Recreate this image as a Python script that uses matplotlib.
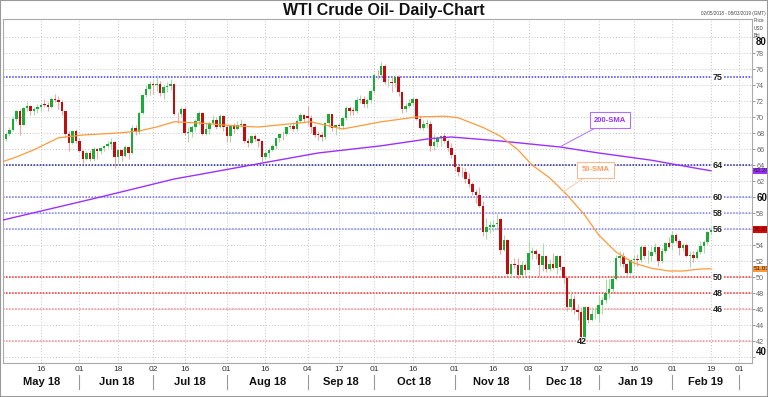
import pandas as pd
import matplotlib
matplotlib.use("Agg")
import matplotlib.pyplot as plt
import matplotlib.transforms as mtrans

plt.rcParams['font.family'] = ['Liberation Sans', 'DejaVu Sans']

# trading calendar (US holidays removed)
holidays = ['2018-05-28', '2018-07-04', '2018-09-03', '2018-11-22', '2018-12-25',
            '2019-01-01', '2019-01-21', '2019-02-18']
calendar = pd.bdate_range('2018-05-01', '2019-03-08', freq='C', holidays=holidays)

# daily OHLC, 02 May 2018 - 19 Feb 2019
opens = [67.25, 67.93, 68.43, 69.72, 70.73, 69.06, 71.14, 71.36, 70.70, 70.96, 71.31, 71.55, 71.49, 71.28, 72.24, 72.13, 71.84, 70.71, 67.88, 66.73, 68.21,
         67.04, 65.81, 64.75, 65.52, 64.73, 65.95, 65.74, 66.10, 66.36, 66.64, 66.89, 65.06, 65.85, 65.07, 66.22, 65.54, 68.58, 68.08, 70.53, 72.76, 73.45,
         74.15, 73.94, 74.14, 72.94, 73.80, 73.85, 74.11, 70.38, 70.33, 71.01, 68.06, 68.08, 68.76, 69.46, 70.46, 67.89, 68.52, 69.30, 69.61, 68.69, 70.13,
         68.76, 67.66, 68.96, 68.49, 69.01, 69.17, 66.94, 66.81, 67.63, 67.20, 67.04, 65.01, 65.46, 65.91, 66.43, 67.35, 67.86, 67.83, 68.72, 68.87, 68.53, 69.51, 70.25,
         70.10, 69.87, 68.72, 67.77, 67.75, 67.54, 69.25, 70.37, 68.59, 68.99, 68.91, 69.85, 71.12, 70.80, 70.78, 72.08, 72.28, 71.57, 72.12,
         73.25, 75.30, 75.23, 76.41, 74.33, 74.34, 74.29, 74.96, 73.17, 70.97, 71.34, 71.78, 72.30, 69.75, 68.65, 69.12, 69.17, 66.43, 66.82, 67.33, 67.59, 67.04, 66.18,
         65.31, 63.69, 63.14, 63.10, 62.21, 61.67, 60.67, 60.19, 58.90, 55.60, 56.25, 56.30, 56.60, 57.20, 53.43, 54.63, 50.42, 51.63, 51.56, 50.29, 51.45,
         50.93, 52.95, 53.25, 52.89, 51.49, 52.61, 51.00, 51.65, 51.15, 52.58, 51.20, 49.88, 46.24, 47.20, 45.88, 45.59, 42.53, 46.22, 44.61, 45.33,
         45.41, 46.54, 47.09, 47.96, 48.52, 49.78, 52.36, 52.59, 51.59, 50.51, 52.11, 52.31, 52.07, 53.80, 52.57, 52.62, 53.13, 53.69, 51.99, 53.31, 54.23,
         54.25, 55.26, 54.56, 53.66, 54.01, 52.64, 52.72, 52.41, 53.10, 53.90, 54.41, 55.59]
highs = [68.10, 68.75, 69.97, 70.84, 71.00, 71.30, 71.89, 71.50, 71.30, 71.58, 71.80, 72.30, 71.90, 72.47, 72.83, 72.60, 72.10, 70.75, 68.20, 68.40, 68.50,
         67.36, 65.90, 65.80, 65.90, 66.30, 66.10, 66.30, 66.55, 67.05, 67.40, 67.00, 66.00, 66.00, 66.55, 66.30, 69.00, 69.00, 70.70, 72.90, 74.00, 74.46,
         74.50, 75.27, 74.50, 74.00, 74.40, 74.70, 74.20, 70.60, 71.30, 71.20, 68.80, 69.00, 69.80, 70.80, 70.60, 69.20, 69.50, 70.30, 70.00, 70.40, 70.30,
         69.00, 69.10, 69.20, 69.50, 69.80, 69.20, 67.40, 67.80, 67.90, 67.40, 67.10, 65.80, 66.10, 66.60, 67.40, 68.00, 68.20, 68.80, 69.10, 69.20, 69.70, 70.50, 70.40,
         71.40, 70.30, 69.00, 68.30, 68.10, 69.40, 70.50, 70.40, 69.10, 69.30, 70.00, 71.40, 71.40, 71.20, 72.50, 72.70, 72.60, 72.40, 73.40,
         75.50, 75.90, 76.90, 76.60, 74.90, 75.00, 75.30, 75.20, 73.30, 71.70, 72.20, 72.50, 72.40, 70.20, 69.60, 69.80, 69.50, 67.90, 67.60, 67.80, 68.00, 67.20, 66.70,
         65.40, 64.10, 63.70, 63.60, 63.00, 61.90, 61.00, 61.30, 59.50, 57.40, 57.00, 57.10, 57.90, 57.40, 55.20, 54.70, 51.70, 52.40, 52.40, 52.00, 51.70,
         54.50, 53.70, 53.50, 53.00, 54.20, 52.80, 52.30, 53.00, 52.80, 52.80, 51.30, 50.00, 48.30, 47.80, 46.60, 46.20, 46.40, 46.40, 46.20, 46.20,
         47.80, 47.50, 49.80, 49.80, 50.30, 52.70, 53.30, 53.10, 51.80, 52.30, 52.80, 52.90, 54.00, 54.00, 53.40, 53.90, 54.20, 53.80, 53.60, 54.40, 55.00,
         55.70, 55.50, 54.70, 54.30, 54.20, 53.30, 53.20, 53.50, 54.50, 54.60, 55.80, 56.20]
lows = [66.95, 67.60, 68.20, 69.55, 67.70, 69.00, 70.80, 70.30, 70.22, 70.50, 70.75, 71.20, 70.80, 71.15, 71.90, 71.00, 70.30, 67.45, 65.80, 66.60, 66.80,
        65.60, 64.21, 64.60, 64.50, 64.50, 64.80, 65.40, 65.70, 66.10, 66.00, 63.60, 64.30, 64.50, 65.00, 64.70, 65.40, 67.80, 67.90, 70.40, 72.50, 72.70,
        72.90, 73.20, 72.60, 72.20, 73.10, 73.40, 70.25, 69.20, 70.00, 67.80, 66.90, 67.50, 68.20, 69.00, 67.70, 67.80, 67.90, 69.10, 68.50, 68.60, 68.20,
        66.90, 66.90, 68.00, 68.40, 68.80, 66.80, 66.30, 66.60, 67.00, 66.20, 64.43, 64.80, 64.90, 65.70, 66.00, 66.90, 67.10, 67.60, 68.50, 68.30, 68.30, 69.30, 69.40,
        69.00, 68.00, 67.50, 67.10, 67.00, 67.30, 68.80, 68.30, 67.80, 68.50, 68.50, 69.60, 70.30, 70.30, 70.50, 71.70, 71.20, 71.10, 71.80,
        73.00, 74.70, 74.90, 74.10, 73.80, 73.10, 73.80, 72.60, 70.50, 70.60, 71.10, 71.50, 69.60, 68.50, 68.40, 68.60, 65.70, 65.90, 66.30, 66.40, 66.70, 65.70, 64.90,
        63.30, 62.60, 62.50, 61.80, 61.30, 60.30, 59.30, 58.80, 55.10, 54.80, 55.50, 55.80, 55.90, 52.90, 53.20, 50.30, 50.00, 51.10, 49.80, 49.90, 50.20,
        50.90, 52.20, 52.30, 50.10, 50.80, 50.60, 50.70, 51.00, 50.40, 50.90, 49.30, 45.80, 45.80, 45.40, 44.60, 42.36, 42.40, 44.30, 44.50, 44.80,
        44.40, 45.40, 46.70, 47.40, 48.00, 49.60, 51.40, 51.30, 50.30, 50.40, 51.40, 51.40, 51.90, 52.30, 51.80, 52.00, 52.90, 51.40, 51.70, 53.00, 53.60,
        53.40, 54.30, 52.80, 53.20, 52.50, 51.20, 51.90, 52.30, 52.90, 53.00, 54.10, 55.40]
closes = [67.93, 68.43, 69.72, 70.73, 69.06, 71.14, 71.36, 70.70, 70.96, 71.31, 71.49, 71.49, 71.28, 72.24, 72.13, 71.84, 70.71, 67.88, 66.73, 68.21, 67.04,
          65.81, 64.75, 65.52, 64.73, 65.95, 65.74, 66.10, 66.36, 66.64, 66.89, 65.06, 65.85, 65.07, 66.22, 65.54, 68.58, 68.08, 70.53, 72.76, 73.45, 74.15,
          73.94, 74.14, 72.94, 73.80, 73.85, 74.11, 70.38, 70.33, 71.01, 68.06, 68.08, 68.76, 69.46, 70.46, 67.89, 68.52, 69.30, 69.61, 68.69, 70.13, 68.76,
          67.66, 68.96, 68.49, 69.01, 69.17, 66.94, 66.81, 67.63, 67.20, 67.04, 65.01, 65.46, 65.91, 66.43, 67.35, 67.86, 67.83, 68.72, 68.87, 68.53, 69.51, 70.25, 69.80,
          69.87, 68.72, 67.77, 67.75, 67.54, 69.25, 70.37, 68.59, 68.99, 68.91, 69.85, 71.12, 70.80, 70.78, 72.08, 72.28, 71.57, 72.12, 73.25,
          75.30, 75.23, 76.41, 74.33, 74.34, 74.29, 74.96, 73.17, 70.97, 71.34, 71.78, 72.30, 69.75, 68.65, 69.12, 69.17, 66.43, 66.82, 67.33, 67.59, 67.04, 66.18, 65.31,
          63.69, 63.14, 63.10, 62.21, 61.67, 60.67, 60.19, 58.90, 55.60, 56.25, 56.46, 56.46, 56.75, 53.43, 54.63, 50.42, 51.63, 51.56, 50.29, 51.45, 50.93,
          52.95, 53.25, 52.89, 51.49, 52.61, 51.00, 51.65, 51.15, 52.58, 51.20, 49.88, 46.24, 47.20, 45.88, 45.59, 42.53, 46.22, 44.61, 45.33, 45.41,
          46.54, 47.09, 47.96, 48.52, 49.78, 52.36, 52.59, 51.59, 50.51, 52.11, 52.31, 52.07, 53.80, 52.57, 52.62, 53.13, 53.69, 51.99, 53.31, 54.23, 53.79,
          55.26, 54.56, 53.66, 54.01, 52.64, 52.72, 52.41, 53.10, 53.90, 54.41, 55.59, 55.91]

# moving averages (trading-day index, price)
sma50_idx = [0, 4, 9, 16, 23, 33, 39, 44, 49, 56, 66, 73, 88, 97, 108, 118, 126, 130, 137, 142, 147,
             151, 156, 161, 166, 170, 175, 180, 185, 190, 194, 199, 202]
sma50_val = [64.4, 65.0, 65.9, 67.4, 67.75, 68.0, 68.25, 68.75, 69.4, 69.25, 68.9, 68.75, 69.4, 68.5, 69.4, 70.0, 70.1, 69.9, 68.7, 67.6, 65.9,
             64.0, 62.4, 60.25, 57.75, 55.25, 53.1, 51.75, 51.1, 50.75, 50.75, 51.0, 51.03]
sma200_idx = [0, 28, 49, 56, 71, 90, 108, 122, 128, 142, 159, 170, 185, 199, 202]
sma200_val = [57.1, 60.0, 62.25, 62.8, 64.0, 65.5, 66.4, 67.3, 67.5, 67.0, 66.25, 65.5, 64.6, 63.5, 63.28]

levels = [75, 64, 60, 58, 56, 50, 48, 46, 42]
level_colors = ['#3b3bff', '#1f1fa0', '#7070ff', '#8080ff', '#8080ff', '#ff2a2a', '#ff2a2a', '#ff8a8a', '#ff8a8a']

day_ticks = ['2018-05-16', '2018-06-01', '2018-06-18', '2018-07-02', '2018-07-16', '2018-08-01', '2018-08-16',
             '2018-09-04', '2018-09-17', '2018-10-01', '2018-10-16', '2018-11-01', '2018-11-16', '2018-12-03',
             '2018-12-17', '2019-01-02', '2019-01-16', '2019-02-01', '2019-02-19', '2019-03-01']
months = ['May 18', 'Jun 18', 'Jul 18', 'Aug 18', 'Sep 18', 'Oct 18', 'Nov 18', 'Dec 18', 'Jan 19', 'Feb 19']
month_starts = ['2018-05-01', '2018-06-01', '2018-07-02', '2018-08-01', '2018-09-04', '2018-10-01',
                '2018-11-01', '2018-12-03', '2019-01-02', '2019-02-01', '2019-03-01']

pos = {d: i for i, d in enumerate(calendar)}
x = [pos[d] for d in pd.bdate_range('2018-05-02', '2019-02-19', freq='C', holidays=holidays)]
assert len(x) == len(closes) == len(opens) == len(highs) == len(lows)

W, H = 768, 397
fig = plt.figure(figsize=(W / 100, H / 100), dpi=100)
ax = fig.add_axes([3 / W, 1 - 363 / H, 749 / W, 344 / H])
ax.set_xlim(0.2, 213.7)
ax.set_ylim(39.25, 82.25)

# grid
tick_x = [pos[pd.Timestamp(d)] for d in day_ticks]
for tx in tick_x:
    ax.axvline(tx, color='#c4c4c4', ls=(0, (1, 2)), lw=0.7, zorder=0)
for gy in range(40, 82, 2):
    ax.axhline(gy, color='#c4c4c4', ls=(0, (1, 2)), lw=0.7, zorder=0)

# support / resistance levels
for lv, lc in zip(levels, level_colors):
    ax.axhline(lv, color=lc, ls=(0, (1, 1)), lw=1.1, zorder=1)
    if lv == 42:
        ax.text(165.2, lv, '42', ha='center', va='center', fontsize=6.5, fontweight='bold',
                color='#222222', zorder=6)
    else:
        ax.text(204, lv, str(lv), ha='center', va='center', fontsize=6.5, fontweight='bold',
                color='#222222', zorder=6,
                bbox=dict(facecolor='white', edgecolor='none', pad=0.6))

# candles
for xi, o, h, l, c in zip(x, opens, highs, lows, closes):
    up = c >= o
    ax.vlines(xi, l, h, color='#a6dca6' if up else '#f2a6a6', lw=0.8, zorder=3)
    ax.bar(xi, max(abs(c - o), 0.08), bottom=min(o, c), width=0.72,
           color='#1cab38' if up else '#c00d10', lw=0, zorder=4)

# moving averages
ax.plot(sma200_idx, sma200_val, color='#9b30ff', lw=1.0, zorder=5)
ax.plot(sma50_idx, sma50_val, color='#ff9a3a', lw=0.9, zorder=5)

ax.annotate('200-SMA', xy=(158.9, 66.25), xytext=(173.2, 69.6), ha='center', va='center',
            fontsize=5.5, fontweight='bold', color='#9b30ff', zorder=7,
            bbox=dict(boxstyle='square,pad=0.55', facecolor='white', edgecolor='#b070ff', lw=0.8),
            arrowprops=dict(arrowstyle='-', color='#b070ff', lw=0.7, shrinkA=0, shrinkB=0))
ax.annotate('50-SMA', xy=(159.8, 60.6), xytext=(169.2, 63.4), ha='center', va='center',
            fontsize=5.5, fontweight='bold', color='#ff9a5a', zorder=7,
            bbox=dict(boxstyle='square,pad=0.6', facecolor='white', edgecolor='#ffb890', lw=0.8),
            arrowprops=dict(arrowstyle='-', color='#ffc8a8', lw=0.7, shrinkA=0, shrinkB=0))

# right price axis
ax.yaxis.tick_right()
ax.set_yticks(range(40, 82, 2))
ax.tick_params(axis='y', length=2, width=0.6, color='#888888', pad=1, labelsize=5.2, labelcolor='#666666')
for lab in ax.get_yticklabels():
    t = lab.get_text()
    if t in ('40', '60', '80'):
        lab.set_fontsize(7)
        lab.set_fontweight('bold')
        lab.set_color('#111111')
    if t == '80':
        lab.set_verticalalignment('top')
    if t == '40':
        lab.set_verticalalignment('bottom')
    if t == '56':
        # hidden under the last-price badge
        lab.set_visible(False)

badge_tr = mtrans.blended_transform_factory(ax.transAxes, ax.transData)
for val, fc in [(closes[-1], '#e00000'), (sma200_val[-1], '#9b30ff'), (sma50_val[-1], '#ff9a3a')]:
    ax.text(1.002, val, f'{val:.2f}', transform=badge_tr, ha='left', va='center', fontsize=4.5,
            color='#222222', zorder=8, clip_on=False,
            bbox=dict(boxstyle='square,pad=0.12', facecolor=fc, edgecolor='none'))

# date axis
ax.set_xticks(tick_x)
ax.set_xticklabels([pd.Timestamp(d).strftime('%d') for d in day_ticks])
ax.tick_params(axis='x', length=0, pad=2, labelsize=6, labelcolor='#333333')
sep_tr = mtrans.blended_transform_factory(ax.transData, ax.transAxes)
starts = [pos[pd.Timestamp(d)] for d in month_starts]
starts[0] = 0.2
for s in starts[1:]:
    ax.plot([s, s], [-0.035, -0.076], color='#999999', lw=0.8, transform=sep_tr, clip_on=False)
for name, a, b in zip(months, starts[:-1], starts[1:]):
    ax.text((a + b) / 2, -0.055, name, transform=sep_tr, ha='center', va='center',
            fontsize=8, fontweight='bold', color='#111111')

for side in ax.spines.values():
    side.set_color('#aaaaaa')
    side.set_linewidth(0.8)

fig.text(0.5, 1 - 10 / H, 'WTI Crude Oil- Daily-Chart', ha='center', va='center',
         fontsize=11.5, fontweight='bold', color='#111111')
fig.text(766 / W, 1 - 14 / H, '02/05/2018 - 08/03/2019 (GMT)', ha='right', va='center',
         fontsize=3.3, color='#444444')
fig.text(754 / W, 1 - 28 / H, 'Price\nUSD\nBbl', ha='left', va='center', fontsize=3.3,
         color='#444444', linespacing=1.6)
fig.patches.append(plt.Rectangle((0, 0), 1, 1, transform=fig.transFigure, fill=False,
                                 edgecolor='#999999', lw=1.5))

fig.savefig('out.png', dpi=100)
